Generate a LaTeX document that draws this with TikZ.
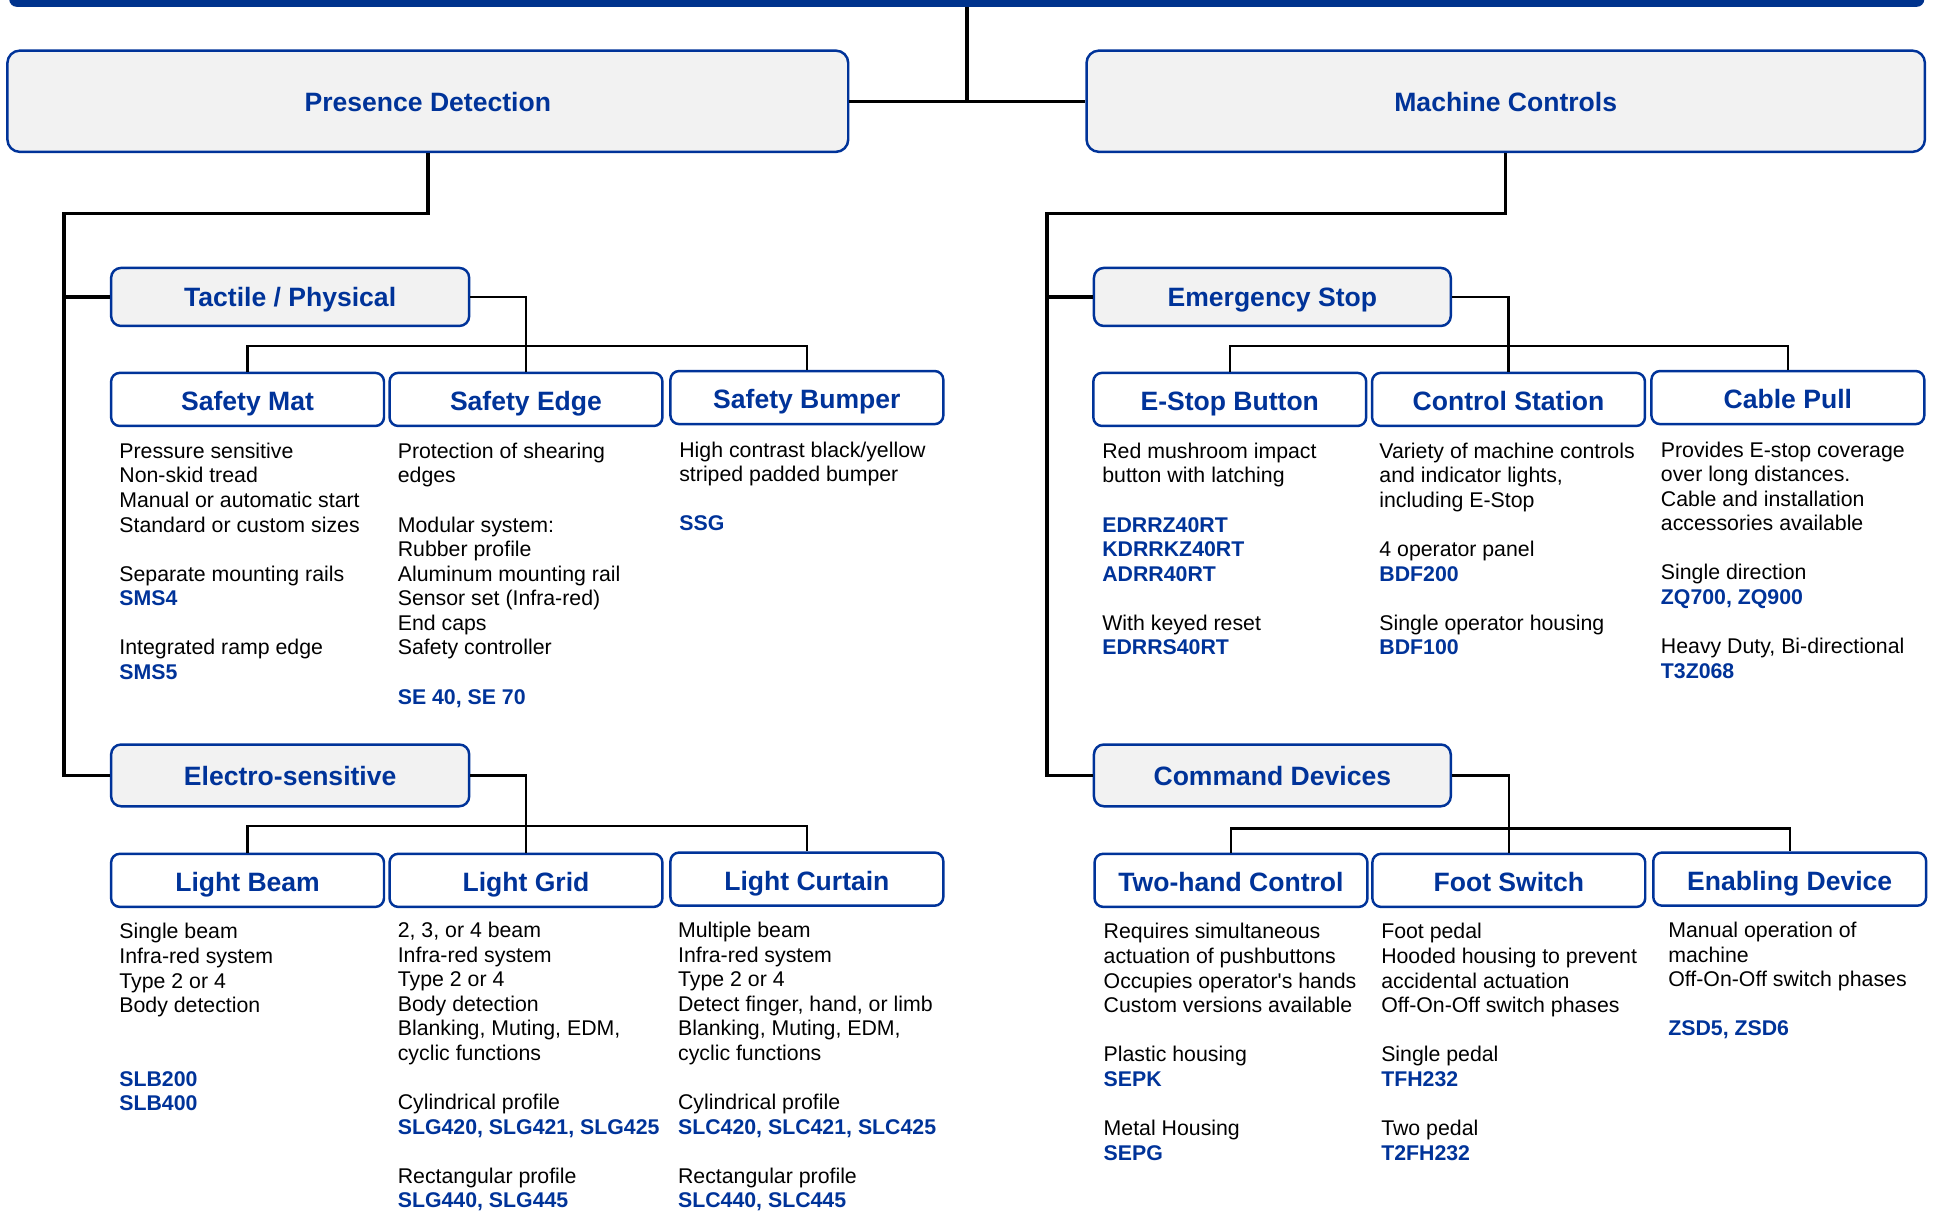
\documentclass[tikz,border=0pt]{standalone}
\usepackage{fontspec}
\setmainfont{Liberation Sans}
\definecolor{bblue}{RGB}{0,51,153}
\definecolor{bgray}{RGB}{242,242,242}
\definecolor{bbar}{RGB}{0,51,141}
\newcommand{\pnum}[1]{\textcolor{bblue}{\bfseries #1}}
\begin{document}
\begin{tikzpicture}[x=1pt,y=-1pt,
  mainline/.style={draw=black,line width=2.8pt},
  subline/.style={draw=black,line width=1.9pt},
  headbox/.style={draw=bblue,line width=2pt,fill=bgray,rounded corners=10pt,inner sep=0pt,text=bblue,
    font=\fontsize{21.5}{25}\selectfont\bfseries,text height=17pt,text depth=1pt},
  groupbox/.style={headbox,rounded corners=8pt},
  itembox/.style={draw=bblue,line width=2pt,fill=white,rounded corners=7pt,inner sep=0pt,text=bblue,
    font=\fontsize{21.5}{25}\selectfont\bfseries,minimum width=221pt,minimum height=43pt,text height=18pt,text depth=0pt},
  txt/.style={anchor=north west,inner sep=0pt,align=left,font=\fontsize{17.25}{19.9}\selectfont}
]
\useasboundingbox (0,0) rectangle (1568.8,980);

% top bar
\node[fill=bbar,rounded corners=6pt,minimum width=1551pt,minimum height=30pt,inner sep=0pt] (bar) at (783,-9.5) {};

% category boxes
\node[headbox,minimum width=681pt,minimum height=82pt] (pd) at (346.5,82) {Presence Detection};
\node[headbox,minimum width=679pt,minimum height=82pt] (mc) at (1219.5,82) {Machine Controls};
\node[groupbox,minimum width=290pt,minimum height=47pt] (tp) at (235,240.5) {Tactile / Physical};
\node[groupbox,minimum width=290pt,minimum height=50pt] (el) at (235,628) {Electro-sensitive};
\node[groupbox,minimum width=289pt,minimum height=47pt] (es) at (1030.5,240.5) {Emergency Stop};
\node[groupbox,minimum width=289pt,minimum height=50pt] (cd) at (1030.5,628) {Command Devices};

% item boxes
\node[itembox] (sm) at (200.5,323.5) {Safety Mat};
\node[itembox] (se) at (426,323.5) {Safety Edge};
\node[itembox] (sb) at (653.5,322) {Safety Bumper};
\node[itembox] (eb) at (996,323.5) {E-Stop Button};
\node[itembox] (cs) at (1221.75,323.5) {Control Station};
\node[itembox] (cp) at (1448,322) {Cable Pull};
\node[itembox] (lb) at (200.5,713) {Light Beam};
\node[itembox] (lg) at (426,713) {Light Grid};
\node[itembox] (lc) at (653.5,712) {Light Curtain};
\node[itembox] (th) at (997,713) {Two-hand Control};
\node[itembox] (fs) at (1222,713) {Foot Switch};
\node[itembox] (ed) at (1449.5,712) {Enabling Device};

% main connectors
\coordinate (lt) at (52,173);
\coordinate (rt) at (848,173);
\draw[mainline] (bar.south) -- (bar.south |- pd.east);
\draw[mainline] (pd.east) -- (mc.west);
\draw[mainline] (pd.south) |- (lt) -- (lt |- el.west) -- (el.west);
\draw[mainline] (lt |- tp.west) -- (tp.west);
\draw[mainline] (mc.south) |- (rt) -- (rt |- cd.west) -- (cd.west);
\draw[mainline] (rt |- es.west) -- (es.west);

% sub connectors
\coordinate (tbar) at (426,280);
\coordinate (ebar) at (426,669);
\coordinate (sbar) at (1221.75,280);
\coordinate (cbar) at (1222,671);
\draw[subline] (tp.east) -| (se.north);
\draw[subline] (sm.north) |- (tbar) -| (sb.north);
\draw[subline] (el.east) -| (lg.north);
\draw[subline] (lb.north) |- (ebar) -| (lc.north);
\draw[subline] (es.east) -| (cs.north);
\draw[subline] (eb.north) |- (sbar) -| (cp.north);
\draw[subline] (cd.east) -| (fs.north);
\draw[subline] (th.north) |- (cbar) -| (ed.north);

% descriptions, upper row
\node[txt] (tsm) at (96.5,357.1) {\strut Pressure sensitive\\Non-skid tread\\Manual or automatic start\\Standard or custom sizes\\[19.9pt]Separate mounting rails\\\pnum{SMS4}\\[19.9pt]Integrated ramp edge\\\pnum{SMS5}};
\node[txt] (tse) at (322,357.1) {\strut Protection of shearing\\edges\\[19.9pt]Modular system:\\Rubber profile\\Aluminum mounting rail\\Sensor set (Infra-red)\\End caps\\Safety controller\\[19.9pt]\pnum{SE 40, SE 70}};
\node[txt] (tsb) at (550,356.1) {\strut High contrast black/yellow\\striped padded bumper\\[19.9pt]\pnum{SSG}};
\node[txt] (teb) at (892.6,357.1) {\strut Red mushroom impact\\button with latching\\[19.9pt]\pnum{EDRRZ40RT}\\\pnum{KDRRKZ40RT}\\\pnum{ADRR40RT}\\[19.9pt]With keyed reset\\\pnum{EDRRS40RT}};
\node[txt] (tcs) at (1117,357.1) {\strut Variety of machine controls\\and indicator lights,\\including E-Stop\\[19.9pt]4 operator panel\\\pnum{BDF200}\\[19.9pt]Single operator housing\\\pnum{BDF100}};
\node[txt] (tcp) at (1345,356.1) {\strut Provides E-stop coverage\\over long distances.\\Cable and installation\\accessories available\\[19.9pt]Single direction\\\pnum{ZQ700, ZQ900}\\[19.9pt]Heavy Duty, Bi-directional\\\pnum{T3Z068}};

% descriptions, lower row
\node[txt] (tlb) at (96.5,746.3) {\strut Single beam\\Infra-red system\\Type 2 or 4\\Body detection\\[39.8pt]\pnum{SLB200}\\\pnum{SLB400}};
\node[txt] (tlg) at (322,745.3) {\strut 2, 3, or 4 beam\\Infra-red system\\Type 2 or 4\\Body detection\\Blanking, Muting, EDM,\\cyclic functions\\[19.9pt]Cylindrical profile\\\pnum{SLG420, SLG421, SLG425}\\[19.9pt]Rectangular profile\\\pnum{SLG440, SLG445}};
\node[txt] (tlc) at (549,745.3) {\strut Multiple beam\\Infra-red system\\Type 2 or 4\\Detect finger, hand, or limb\\Blanking, Muting, EDM,\\cyclic functions\\[19.9pt]Cylindrical profile\\\pnum{SLC420, SLC421, SLC425}\\[19.9pt]Rectangular profile\\\pnum{SLC440, SLC445}};
\node[txt] (tth) at (893.7,746.3) {\strut Requires simultaneous\\actuation of pushbuttons\\Occupies operator\textquotesingle s hands\\Custom versions available\\[19.9pt]Plastic housing\\\pnum{SEPK}\\[19.9pt]Metal Housing\\\pnum{SEPG}};
\node[txt] (tfs) at (1118.5,746.3) {\strut Foot pedal\\Hooded housing to prevent\\accidental actuation\\Off-On-Off switch phases\\[19.9pt]Single pedal\\\pnum{TFH232}\\[19.9pt]Two pedal\\\pnum{T2FH232}};
\node[txt] (ted) at (1351,745.3) {\strut Manual operation of\\machine\\Off-On-Off switch phases\\[19.9pt]\pnum{ZSD5, ZSD6}};
\end{tikzpicture}
\end{document}
